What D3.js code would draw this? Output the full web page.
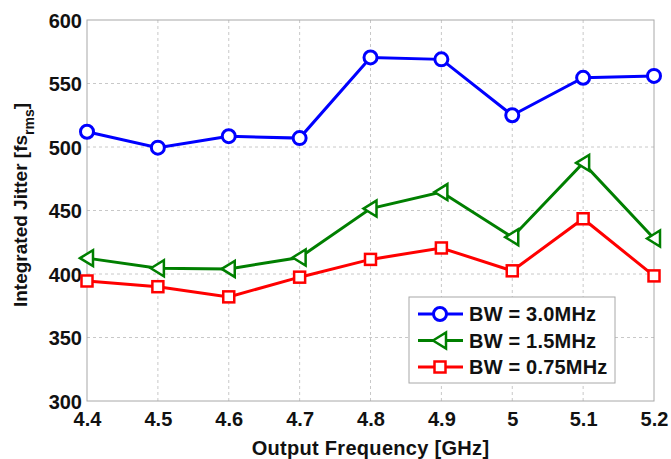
<!DOCTYPE html>
<html>
<head>
<meta charset="utf-8">
<script src="https://cdn.jsdelivr.net/npm/d3@7"></script>
<style>
  body { margin: 0; background: #fff; }
  text { font-family: "Liberation Sans", Arial, sans-serif; font-weight: bold; fill: #111; }
</style>
</head>
<body>
<div id="chart"></div>
<script>
// Data
const freqs = [4.4, 4.5, 4.6, 4.7, 4.8, 4.9, 5.0, 5.1, 5.2];
const bw30 = [512, 499.5, 508.5, 507, 570.5, 569, 525, 554.5, 556];
const bw15 = [412.5, 404.5, 404, 413, 451.5, 464.5, 429, 487.5, 428];
const bw075 = [394.5, 390, 382, 397.5, 411.5, 420.5, 402.5, 443.5, 398.5];
const xTicks = [4.4, 4.5, 4.6, 4.7, 4.8, 4.9, 5.0, 5.1, 5.2];
const xTickLabels = ["4.4", "4.5", "4.6", "4.7", "4.8", "4.9", "5", "5.1", "5.2"];
const yTicks = [300, 350, 400, 450, 500, 550, 600];

const series = [
    { label: "BW = 3.0MHz", values: bw30, color: "#0000ff", marker: "circle" },
    { label: "BW = 1.5MHz", values: bw15, color: "#007f00", marker: "triangle" },
    { label: "BW = 0.75MHz", values: bw075, color: "#ff0000", marker: "square" }
];

const W = 671, H = 459;
const margin = { top: 20, right: 17, bottom: 58, left: 87 },
    width = W - margin.left - margin.right,
    height = H - margin.top - margin.bottom;

const svg = d3.select("#chart")
    .append("svg")
    .attr("width", W)
    .attr("height", H);

const g = svg.append("g")
    .attr("transform", "translate(" + margin.left + "," + margin.top + ")");

const x = d3.scaleLinear().domain([4.4, 5.2]).range([0, width]);
const y = d3.scaleLinear().domain([300, 600]).range([height, 0]);

// Grid
g.selectAll(".vgrid")
    .data(xTicks.slice(1, -1))
    .enter().append("line")
    .attr("x1", d => x(d)).attr("x2", d => x(d))
    .attr("y1", 0).attr("y2", height)
    .attr("stroke", "#c8c8c8").attr("stroke-dasharray", "3,3");

g.selectAll(".hgrid")
    .data(yTicks.slice(1, -1))
    .enter().append("line")
    .attr("x1", 0).attr("x2", width)
    .attr("y1", d => y(d)).attr("y2", d => y(d))
    .attr("stroke", "#c8c8c8").attr("stroke-dasharray", "3,3");

// Box
g.append("rect")
    .attr("width", width).attr("height", height)
    .attr("fill", "none").attr("stroke", "#a8a8a8");

// Axes
const xAxis = g.append("g")
    .attr("transform", `translate(0, ${height})`)
    .call(d3.axisBottom(x).tickValues(xTicks).tickSize(0).tickPadding(11)
        .tickFormat((d, i) => xTickLabels[i]));
xAxis.select(".domain").remove();
xAxis.selectAll("text").style("font-size", "20px");

const yAxis = g.append("g")
    .call(d3.axisLeft(y).tickValues(yTicks).tickSize(0).tickPadding(5));
yAxis.select(".domain").remove();
yAxis.selectAll("text").style("font-size", "20px").attr("dy", "0.36em");

// Axis labels
svg.append("text")
    .attr("x", margin.left + width / 2)
    .attr("y", 455)
    .attr("text-anchor", "middle")
    .style("font-size", "20px")
    .style("letter-spacing", "0.3px")
    .text("Output Frequency [GHz]");

const yl = svg.append("text")
    .attr("transform", "translate(27, 205) rotate(-90)")
    .attr("text-anchor", "middle")
    .style("font-size", "19px");
yl.append("tspan").text("Integrated Jitter [fs");
yl.append("tspan").text("rms").style("font-size", "14px").attr("dy", 7);
yl.append("tspan").text("]").attr("dy", -7);

// Markers
function drawMarker(sel, type, color) {
    if (type === "circle") {
        sel.append("circle").attr("r", 6.5)
            .attr("fill", "#fff").attr("stroke", color).attr("stroke-width", 3);
    } else if (type === "triangle") {
        sel.append("path").attr("d", "M-7,0L6,-8L6,8Z")
            .attr("fill", "#fff").attr("stroke", color).attr("stroke-width", 2.5);
    } else {
        sel.append("rect").attr("x", -5.5).attr("y", -5.5).attr("width", 11).attr("height", 11)
            .attr("fill", "#fff").attr("stroke", color).attr("stroke-width", 2.5);
    }
}

const line = d3.line()
    .x((d, i) => x(freqs[i]))
    .y(d => y(d));

series.forEach(s => {
    g.append("path")
        .datum(s.values)
        .attr("d", line)
        .attr("fill", "none")
        .attr("stroke", s.color)
        .attr("stroke-width", 3);

    s.values.forEach((v, i) => {
        const m = g.append("g").attr("transform", `translate(${x(freqs[i])},${y(v)})`);
        drawMarker(m, s.marker, s.color);
    });
});

// Legend
const legend = svg.append("g").attr("transform", "translate(409, 297)");
legend.append("rect")
    .attr("width", 206).attr("height", 86)
    .attr("fill", "#fff").attr("stroke", "#a8a8a8");

series.forEach((s, i) => {
    const row = legend.append("g").attr("transform", `translate(0, ${17 + i * 26.5})`);
    row.append("line").attr("x1", 9).attr("x2", 54).attr("y1", 0).attr("y2", 0)
        .attr("stroke", s.color).attr("stroke-width", 3);
    const m = row.append("g").attr("transform", "translate(31,0)");
    drawMarker(m, s.marker, s.color);
    row.append("text")
        .attr("x", 60).attr("y", 0).attr("dy", "0.36em")
        .style("font-size", "20px")
        .style("letter-spacing", "0.2px")
        .text(s.label);
});
</script>
</body>
</html>
